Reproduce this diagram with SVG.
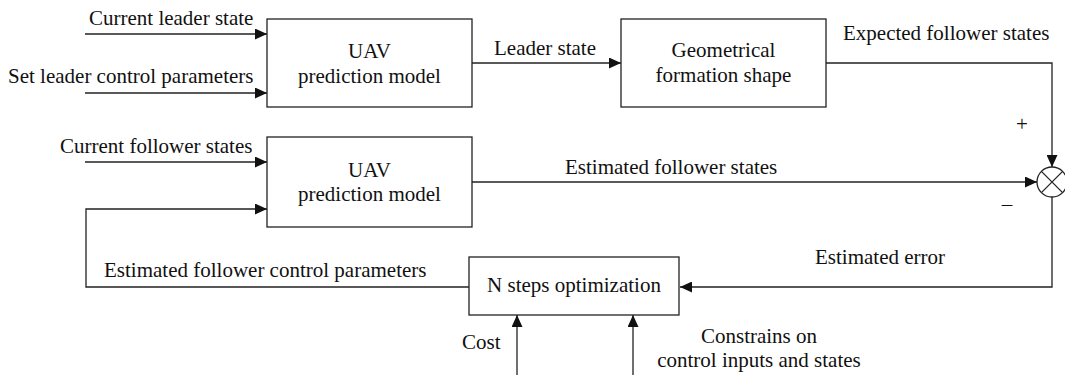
<svg xmlns="http://www.w3.org/2000/svg" width="1065" height="375" viewBox="0 0 1065 375">
<defs>
<marker id="ah" markerWidth="12" markerHeight="11" refX="12" refY="5.5" orient="auto" markerUnits="userSpaceOnUse">
<path d="M0,0 L12,5.5 L0,11 Z" fill="#111"/>
</marker>
<style>
.box{fill:#fff;stroke:#222;stroke-width:1.3}
.ln{fill:none;stroke:#222;stroke-width:1.3}
.t{font-family:"Liberation Serif","Times New Roman","DejaVu Serif",serif;font-size:21px;fill:#111}
.c{text-anchor:middle}
</style>
</defs>
<rect width="1065" height="375" fill="#fff"/>
<g id="connectors">
<path class="ln" d="M85,34 H267" marker-end="url(#ah)"/>
<path class="ln" d="M85,93 H267" marker-end="url(#ah)"/>
<path class="ln" d="M472,63 H621" marker-end="url(#ah)"/>
<path class="ln" d="M826,63 H1052 V167" marker-end="url(#ah)"/>
<path class="ln" d="M85,162 H267" marker-end="url(#ah)"/>
<path class="ln" d="M472,182 H1037" marker-end="url(#ah)"/>
<path class="ln" d="M1052,197 V287 H680" marker-end="url(#ah)"/>
<path class="ln" d="M469,287 H86 V209 H267" marker-end="url(#ah)"/>
<path class="ln" d="M517,375 V315" marker-end="url(#ah)"/>
<path class="ln" d="M633,375 V315" marker-end="url(#ah)"/>
<text class="t" x="89" y="25">Current leader state</text>
<text class="t" x="8" y="83">Set leader control parameters</text>
<text class="t" x="494" y="55">Leader state</text>
<text class="t" x="843" y="40">Expected follower states</text>
<text class="t c" x="1022" y="131">+</text>
<text class="t c" x="1007" y="211">–</text>
<text class="t" x="60" y="153">Current follower states</text>
<text class="t" x="565" y="174">Estimated follower states</text>
<text class="t" x="815" y="264">Estimated error</text>
<text class="t" x="104" y="277">Estimated follower control parameters</text>
<text class="t" x="462" y="349">Cost</text>
<text class="t c" x="759" y="343">Constrains on</text>
<text class="t c" x="759" y="367">control inputs and states</text>
</g>
<g id="uav1">
<rect class="box" x="267" y="19" width="205" height="88"/>
<text class="t c" x="369.5" y="58">UAV</text>
<text class="t c" x="369.5" y="83">prediction model</text>
</g>
<g id="geom">
<rect class="box" x="621" y="19" width="205" height="88"/>
<text class="t c" x="723.5" y="57">Geometrical</text>
<text class="t c" x="723.5" y="82">formation shape</text>
</g>
<g id="uav2">
<rect class="box" x="267" y="137" width="205" height="90"/>
<text class="t c" x="369.5" y="177">UAV</text>
<text class="t c" x="369.5" y="201">prediction model</text>
</g>
<g id="sum">
<circle class="box" cx="1052" cy="182" r="15"/>
<path class="ln" d="M1041.4,171.4 L1062.6,192.6 M1062.6,171.4 L1041.4,192.6"/>
</g>
<g id="opt">
<rect class="box" x="469" y="257" width="210" height="58"/>
<text class="t c" x="574" y="292">N steps optimization</text>
</g>
</svg>
